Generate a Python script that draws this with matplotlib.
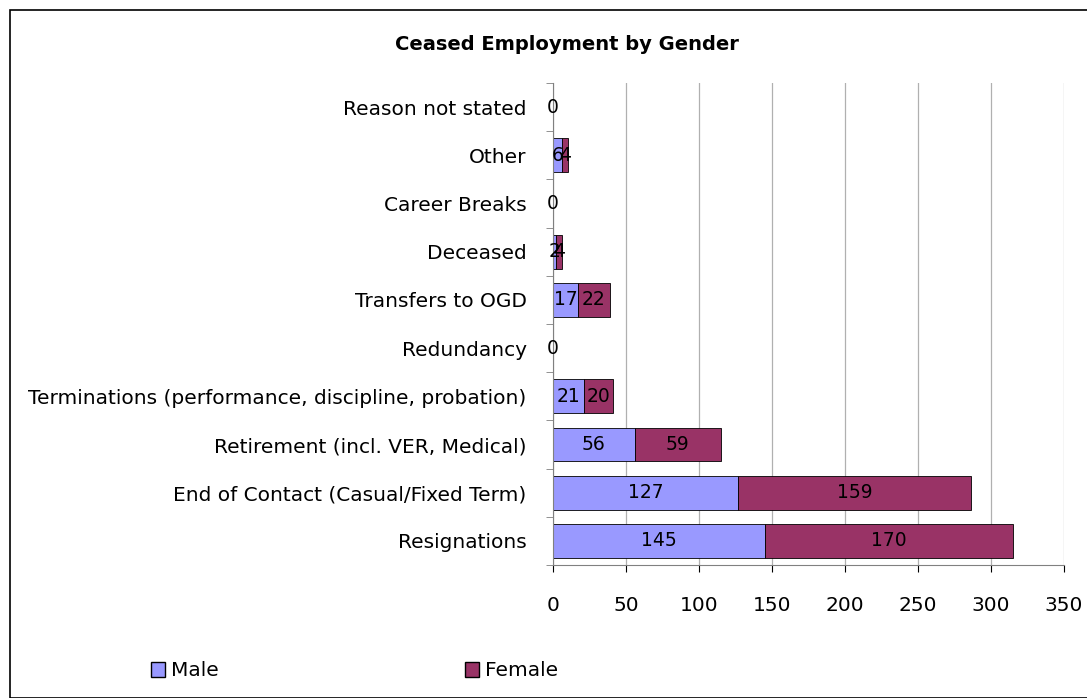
import matplotlib.pyplot as plt
import matplotlib.patches as mpatches
import numpy as np

categories = [
    "Resignations",
    "End of Contact (Casual/Fixed Term)",
    "Retirement (incl. VER, Medical)",
    "Terminations (performance, discipline, probation)",
    "Redundancy",
    "Transfers to OGD",
    "Deceased",
    "Career Breaks",
    "Other",
    "Reason not stated",
]
male = [145, 127, 56, 21, 0, 17, 2, 0, 6, 0]
female = [170, 159, 59, 20, 0, 22, 4, 0, 4, 0]
x_ticks = [0, 50, 100, 150, 200, 250, 300, 350]

plt.rcParams['font.family'] = ['DejaVu Sans']
fs = 14.5

fig = plt.figure(figsize=(10.87, 6.98), dpi=100)
ax = fig.add_axes([553 / 1087, 1 - 565 / 698, (1064 - 553) / 1087, (565 - 83) / 698])

y = np.arange(len(categories))
b1 = ax.barh(y, male, height=0.7, color='#9999FF', edgecolor='black', linewidth=0.6, label='Male')
b2 = ax.barh(y, female, left=male, height=0.7, color='#993366', edgecolor='black', linewidth=0.6, label='Female')
ax.bar_label(b1, labels=[str(v) for v in male], label_type='center', fontsize=fs - 1)
ax.bar_label(b2, labels=[str(v) if v else '' for v in female], label_type='center', fontsize=fs - 1)

ax.set_xlim(0, 350)
ax.set_ylim(-0.5, len(categories) - 0.5)
ax.set_xticks(x_ticks)
ax.tick_params(axis='x', labelsize=fs, direction='out', length=5, pad=17, color='black')
ax.set_yticks(y)
ax.set_yticklabels(categories, fontsize=fs)
ax.tick_params(axis='y', length=0, pad=19)
ax.set_yticks(np.arange(-0.5, len(categories), 1.0), minor=True)
ax.tick_params(axis='y', which='minor', length=5, direction='out', color='#808080')
ax.grid(axis='x', color='#b0b0b0', linewidth=0.9)
ax.set_axisbelow(True)
for s in ['top', 'right']:
    ax.spines[s].set_visible(False)
ax.spines['left'].set_color('#808080')
ax.spines['bottom'].set_color('#808080')

fig.text(567 / 1087, 1 - 45 / 698, "Ceased Employment by Gender", ha='center', va='center',
         fontsize=14, fontweight='bold')

handles = [mpatches.Patch(facecolor='#9999FF', edgecolor='black', label='Male'),
           mpatches.Patch(facecolor='#993366', edgecolor='black', label='Female')]
fig.legend(handles=handles, loc='center left', bbox_to_anchor=(133 / 1087, 1 - 671 / 698),
           ncol=2, frameon=False, fontsize=fs, handlelength=0.7, handleheight=0.7,
           handletextpad=0.3, columnspacing=12.2)

fig.add_artist(mpatches.Rectangle((10 / 1087, 0), 1.0, 1 - 10 / 698, transform=fig.transFigure,
                                  fill=False, edgecolor='black', linewidth=1.2))

fig.savefig('out.png', dpi=100)
